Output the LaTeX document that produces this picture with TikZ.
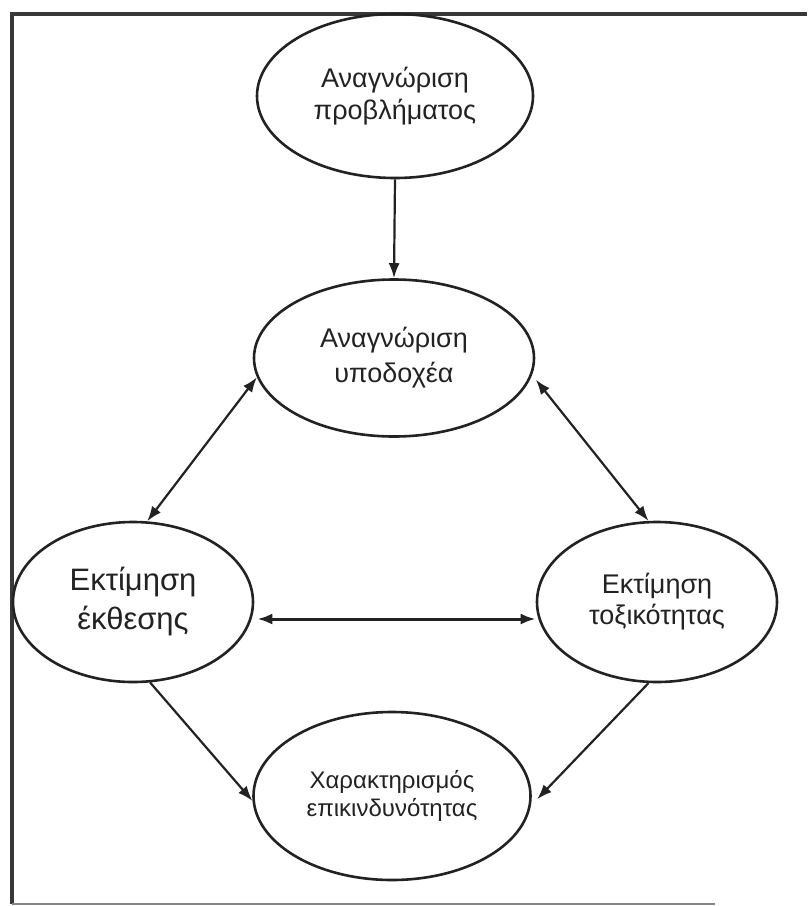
\documentclass[tikz,border=0pt]{standalone}
\usepackage{fontspec}
\setmainfont{Liberation Sans}
\usetikzlibrary{shapes.geometric,arrows.meta}

\definecolor{ink}{HTML}{222222}

\tikzset{
  tip/.tip={Latex[length=15pt,width=11pt]},
  stage/.style={ellipse, draw=ink, line width=2.6pt, inner sep=0pt,
    align=center, text=ink},
  link/.style={draw=ink, line width=2.2pt, -tip},
  twoway/.style={link, tip-tip},
  frameline/.style={draw=ink!90, line width=3.5pt}
}

\begin{document}
\begin{tikzpicture}[x=1pt,y=-1pt]
  \useasboundingbox (0,0) rectangle (807,906);

  % outer frame: open on the right
  \draw[frameline] (807,14) -- (12,14) -- (12,904);
  \draw[draw=ink!55, line width=2pt] (12,904) -- (715,904);

  % stages
  \node[stage, minimum width=276pt, minimum height=164pt,
        font=\fontsize{27}{32}\selectfont] (problem) at (395,96)
        {Αναγνώριση\\προβλήματος};
  \node[stage, minimum width=280pt, minimum height=157pt,
        font=\fontsize{27}{35}\selectfont] (receptor) at (394,358)
        {Αναγνώριση\\υποδοχέα};
  \node[stage, minimum width=240pt, minimum height=160pt,
        font=\fontsize{31}{39}\selectfont] (exposure) at (133,602)
        {Εκτίμηση\\έκθεσης};
  \node[stage, minimum width=240pt, minimum height=160pt,
        font=\fontsize{27}{31}\selectfont] (toxicity) at (657,602)
        {Εκτίμηση\\τοξικότητας};
  \node[stage, minimum width=277pt, minimum height=168pt,
        font=\fontsize{24}{28}\selectfont] (risk) at (392,796)
        {Χαρακτηρισμός\\επικινδυνότητας};

  % connectors
  \draw[link] (problem.south) -- (receptor.north);
  \draw[twoway] (receptor.188) -- (exposure.80);
  \draw[twoway, shorten <=6pt] (receptor.-7) -- (toxicity.96);
  \draw[twoway, line width=3pt, shorten <=3pt]
    ([yshift=-17pt]exposure.east) -- ([yshift=-17pt]toxicity.west);
  \draw[link] (exposure.-78) -- (risk.182);
  \draw[link, shorten >=9pt] (toxicity.-96) -- (risk.-4);
\end{tikzpicture}
\end{document}
